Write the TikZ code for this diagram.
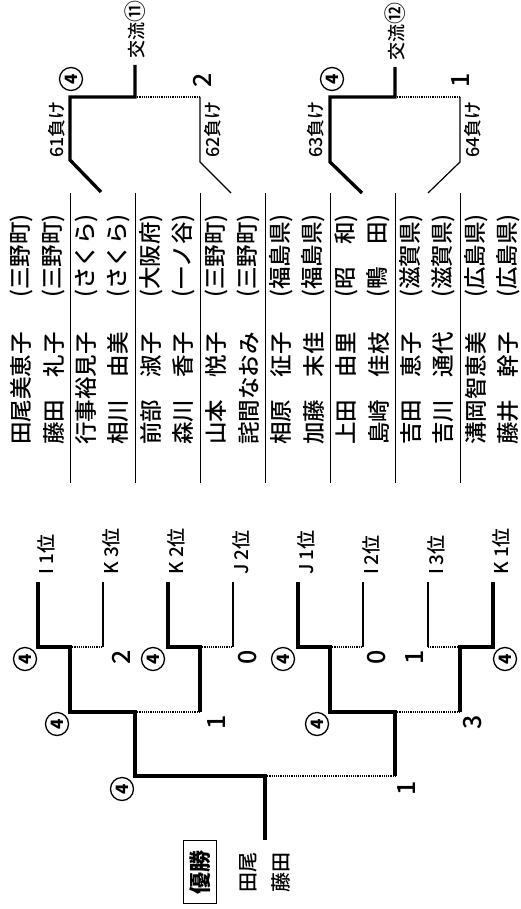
\documentclass[tikz,border=0pt]{standalone}
\usepackage{fontspec}
\setmainfont{Noto Sans CJK JP Medium}
\usetikzlibrary{positioning}

\begin{document}
\begin{tikzpicture}[x=1pt, y=-1pt,
    win/.style={line width=3.3pt},
    lose/.style={line width=1.2pt},
    dotline/.style={line width=1.7pt, dash pattern=on 1.2pt off 1pt},
    sepline/.style={line width=1pt},
    vtext/.style={rotate=90, inner sep=0pt},
    four/.style={circle, draw, line width=1.3pt, inner sep=0pt, minimum size=23pt, rotate=90, font=\fontsize{17}{17}\selectfont\bfseries},
    score/.style={rotate=90, inner sep=0pt, font=\fontsize{25}{25}\selectfont}]

    \useasboundingbox (0,0) rectangle (521,909);

    % entry list
    \foreach \n/\p [count=\i] in {田尾美恵子/{(三野町)}, 藤田　礼子/{(三野町)}, 行事裕見子/{(さくら)}, 相川　由美/{(さくら)},
        前部　淑子/{(大阪府)}, 森川　香子/{(一ノ谷)}, 山本　悦子/{(三野町)}, 詫間なおみ/{(三野町)},
        相原　征子/{(福島県)}, 加藤　末佳/{(福島県)}, 上田　由里/{(昭　和)}, 島崎　佳枝/{(鴨　田)},
        吉田　恵子/{(滋賀県)}, 吉川　通代/{(滋賀県)}, 溝岡智恵美/{(広島県)}, 藤井　幹子/{(広島県)}} {
        \node[vtext, anchor=west, font=\fontsize{22.5}{22.5}\selectfont] (name\i) at ({21+32.5*(\i-1)}, 445) {\n};
        \node[vtext, anchor=west, font=\fontsize{22.5}{22.5}\selectfont] (pref\i) at ({21+32.5*(\i-1)}, 298) {\p};
    }
    \foreach \k in {1,...,7}
        \draw[sepline] ({5+65*\k}, 193) -- ({5+65*\k}, 483);

    % main draw
    \foreach \i in {1,...,8}
        \coordinate (leaf\i) at ({38+65*(\i-1)}, 582);
    \coordinate (m1) at (70,647);
    \coordinate (m2) at (200,647);
    \coordinate (m3) at (330,647);
    \coordinate (m4) at (460,647);
    \coordinate (s1) at (135,712);
    \coordinate (s2) at (395,712);
    \coordinate (fin) at (265,776);
    \coordinate (champ) at (265,840);

    \draw[win] (leaf1) |- (m1) -- (m1 |- s1) -- (s1) -- (s1 |- fin) -- (fin) -- (champ);
    \draw[lose] (leaf2) -- (leaf2 |- m1);
    \draw[dotline] (m1) -- (leaf2 |- m1);
    \draw[win] (leaf3) |- (m2) -- (m2 |- s1);
    \draw[lose] (leaf4) -- (leaf4 |- m2);
    \draw[dotline] (m2) -- (leaf4 |- m2);
    \draw[dotline] (s1) -- (m2 |- s1);
    \draw[win] (leaf5) |- (m3) -- (m3 |- s2) -- (s2) -- (s2 |- fin);
    \draw[lose] (leaf6) -- (leaf6 |- m3);
    \draw[dotline] (m3) -- (leaf6 |- m3);
    \draw[win] (leaf8) |- (m4) -- (m4 |- s2);
    \draw[lose] (leaf7) -- (leaf7 |- m4);
    \draw[dotline] (m4) -- (leaf7 |- m4);
    \draw[dotline] (s2) -- (m4 |- s2);
    \draw[dotline] (fin) -- (s2 |- fin);

    \foreach \l [count=\i] in {I 1位, K 3位, K 2位, J 2位, J 1位, I\,2位, I\,3位, K 1位}
        \node[vtext, anchor=west, font=\fontsize{19}{19}\selectfont] (seed\i) at ([xshift=8pt, yshift=7pt]leaf\i) {\l};

    \node[four] (w1) at (25,659) {4};
    \node[four] (w2) at (153,659) {4};
    \node[four] (w3) at (283,659) {4};
    \node[four] (w4) at (505,659) {4};
    \node[four] (w5) at (57,724) {4};
    \node[four] (w6) at (317,724) {4};
    \node[four] (w7) at (122,789) {4};
    \node[score] (p1) at (121,657) {2};
    \node[score] (p2) at (248,657) {0};
    \node[score] (p3) at (377,657) {0};
    \node[score] (p4) at (415,657) {1};
    \node[score] (p5) at (217,722) {1};
    \node[score] (p6) at (473,722) {3};
    \node[score] (p7) at (407,788) {1};

    \node[draw, line width=1.2pt, minimum width=33pt, minimum height=63pt, inner sep=0pt] (yusho) at (200,872) {};
    \node[vtext, font=\fontsize{22}{22}\selectfont\bfseries] (yushotext) at (yusho) {優勝};
    \node[vtext, font=\fontsize{20}{20}\selectfont] (champA) at (248,872) {田尾};
    \node[vtext, font=\fontsize{20}{20}\selectfont] (champB) at (281,872) {藤田};

    % exchange matches
    \coordinate (a1) at (70,97);
    \coordinate (a2) at (135,97);
    \coordinate (a3) at (200,97);
    \coordinate (ax) at (135,65);
    \coordinate (ka) at (70,160);
    \coordinate (kb) at (200,162);
    \coordinate (pa) at (101,192);
    \coordinate (pb) at (231,193);
    \draw[win] (pa) -- (ka) -- (a1) -- (a2) -- (ax);
    \draw[dotline] (a2) -- (a3);
    \draw[lose] (a3) -- (kb) -- (pb);

    \coordinate (b1) at (330,97);
    \coordinate (b2) at (395,97);
    \coordinate (b3) at (460,97);
    \coordinate (bx) at (395,67);
    \coordinate (kc) at (330,162);
    \coordinate (kd) at (460,162);
    \coordinate (pc) at (362,193);
    \coordinate (pd) at (428,193);
    \draw[win] (pc) -- (kc) -- (b1) -- (b2) -- (bx);
    \draw[dotline] (b2) -- (b3);
    \draw[lose] (b3) -- (kd) -- (pd);

    \node[vtext, anchor=west, font=\fontsize{18}{18}\selectfont] (koryuA) at ([yshift=6pt]ax) {交流{\fontsize{22}{22}\selectfont ⑪}};
    \node[vtext, anchor=west, font=\fontsize{18}{18}\selectfont] (koryuB) at ([yshift=6pt]bx) {交流{\fontsize{22}{22}\selectfont ⑫}};
    \node[vtext, anchor=west, font=\fontsize{18}{18}\selectfont] (lossA) at (57,158) {61負け};
    \node[vtext, anchor=west, font=\fontsize{18}{18}\selectfont] (lossB) at (213,158) {62負け};
    \node[vtext, anchor=west, font=\fontsize{18}{18}\selectfont] (lossC) at (316,158) {63負け};
    \node[vtext, anchor=west, font=\fontsize{18}{18}\selectfont] (lossD) at (473,158) {64負け};
    \node[four] (wa) at (71,79) {4};
    \node[four] (wb) at (332,79) {4};
    \node[score] (pa1) at (202,80) {2};
    \node[score] (pb1) at (461,80) {1};
\end{tikzpicture}
\end{document}
